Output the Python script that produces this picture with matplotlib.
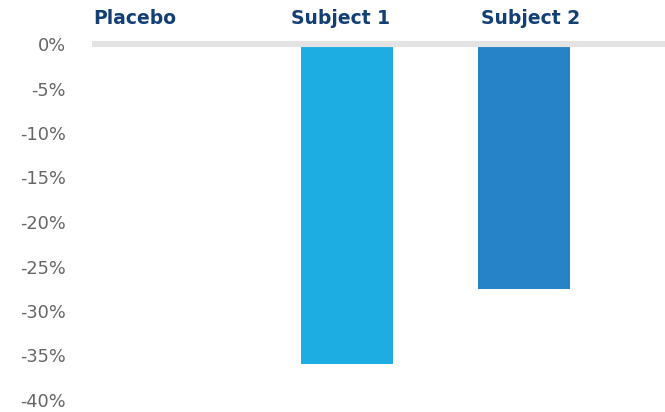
import matplotlib.pyplot as plt
from matplotlib.ticker import FuncFormatter, MultipleLocator

groups = ['Placebo', 'Subject 1', 'Subject 2']
change = [0.0, -36.0, -27.5]
colors = ['#1EADE3', '#1EADE3', '#2683C6']

fig = plt.figure(figsize=(6.65, 4.12), dpi=100)
ax = fig.add_axes([92 / 665, 12 / 412, 1 - 92 / 665, 356 / 412])

x = range(len(groups))
ax.bar(x, change, width=0.52, color=colors, zorder=2)

ax.set_xlim(-0.44, 2.797)
ax.set_ylim(-40, 0)

# heavy grey baseline at 0%
ax.axhline(0, color='#E3E3E3', lw=4.4, zorder=3, clip_on=False,
           solid_capstyle='butt')

ax.yaxis.set_major_locator(MultipleLocator(5))
ax.yaxis.set_major_formatter(FuncFormatter(lambda v, p: '%d%%' % round(v)))
ax.tick_params(axis='y', length=0, pad=18.7, labelsize=12.8, labelcolor='#666666')
ax.set_xticks([])
for s in ax.spines.values():
    s.set_visible(False)

# group names across the top
label_x = [-0.198, 0.966, 2.04]
for lx, name in zip(label_x, groups):
    ax.annotate(name, xy=(lx, 1), xycoords=ax.get_xaxis_transform(),
                xytext=(0, 14.4), textcoords='offset points',
                ha='center', va='baseline', fontsize=13.5, fontweight='bold',
                color='#123F75', annotation_clip=False)

fig.savefig('out.png', dpi=100)
